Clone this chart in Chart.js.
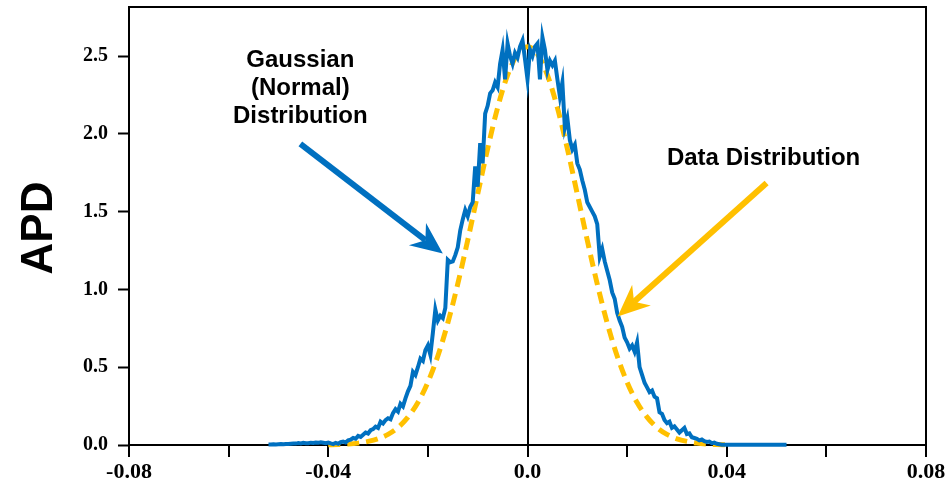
<!DOCTYPE html>
<html>
<head>
<meta charset="utf-8">
<title>APD</title>
<script src="https://cdn.jsdelivr.net/npm/chart.js@4.4.1/dist/chart.umd.min.js"></script>
<style>
    html, body { margin: 0; padding: 0; background: #fff; }
    #wrap { width: 951px; height: 486px; position: relative; }
</style>
</head>
<body>
<div id="wrap"><canvas id="apdChart"></canvas></div>
<script>
(function() {
    'use strict';

    // ===== DATA =====
    // measured distribution, sampled every 0.0005 from -0.052 to 0.052
    const dataStart = -0.052;
    const dataStep = 0.0005;
    const dataValues = [
        // -0.0520 .. -0.0400
        0.004, 0.004, 0.005, 0.004, 0.005, 0.006, 0.005, 0.007, 0.006, 0.008, 0.010, 0.009, 0.012,
        0.010, 0.014, 0.012, 0.011, 0.015, 0.013, 0.016, 0.014, 0.018, 0.015, 0.012, 0.016,
        // -0.0395 .. -0.0300
        0.010, 0.006, 0.014, 0.008, 0.018, 0.022, 0.016, 0.030, 0.034, 0.045,
        0.040, 0.058, 0.052, 0.066, 0.080, 0.074, 0.095, 0.102, 0.118, 0.110,
        // -0.0295 .. -0.0200
        0.150, 0.138, 0.160, 0.172, 0.165, 0.205, 0.230, 0.215, 0.265, 0.248,
        0.300, 0.345, 0.380, 0.470, 0.450, 0.500, 0.555, 0.540, 0.610, 0.640,
        // -0.0195 .. -0.0100
        0.580, 0.720, 0.870, 0.800, 0.830, 0.815, 0.880, 1.190, 1.175, 1.180,
        1.220, 1.270, 1.380, 1.450, 1.510, 1.470, 1.530, 1.560, 1.790, 1.660,
        // -0.0095 .. 0.0000
        1.940, 1.810, 2.130, 2.180, 2.260, 2.280, 2.330, 2.300, 2.450, 2.540,
        2.350, 2.580, 2.500, 2.450, 2.520, 2.490, 2.560, 2.600, 2.480, 2.350,
        // 0.0005 .. 0.0100
        2.540, 2.500, 2.560, 2.580, 2.350, 2.620, 2.540, 2.410, 2.470, 2.440,
        2.470, 2.350, 2.240, 2.330, 2.040, 2.100, 1.960, 1.900, 1.930, 1.810,
        // 0.0105 .. 0.0200
        1.770, 1.700, 1.640, 1.560, 1.530, 1.500, 1.470, 1.420, 1.210, 1.260,
        1.180, 1.120, 1.060, 0.980, 0.940, 0.850, 0.800, 0.760, 0.690, 0.660,
        // 0.0205 .. 0.0300
        0.620, 0.640, 0.600, 0.660, 0.500, 0.450, 0.400, 0.370, 0.340, 0.350,
        0.310, 0.300, 0.210, 0.200, 0.160, 0.140, 0.150, 0.110, 0.120, 0.100,
        // 0.0305 .. 0.0400
        0.080, 0.095, 0.110, 0.070, 0.075, 0.050, 0.045, 0.040, 0.030, 0.035,
        0.025, 0.020, 0.022, 0.012, 0.015, 0.008, 0.005, 0.002, 0.002, 0.001,
        // 0.0405 .. 0.0520
        0.001, 0.001, 0.001, 0.001, 0.001, 0.001, 0.001, 0.001, 0.001, 0.001, 0.001, 0.001,
        0.001, 0.001, 0.001, 0.001, 0.001, 0.001, 0.001, 0.001, 0.001, 0.001, 0.001, 0.001
    ];

    // gaussian fit, sampled every 0.002 from -0.040 to 0.040
    const gaussStart = -0.040;
    const gaussStep = 0.002;
    const gaussValues = [
        0.001, 0.003, 0.006, 0.012, 0.023, 0.040, 0.068, 0.112, 0.179, 0.273,
        0.403, 0.572, 0.784, 1.035, 1.316, 1.612, 1.904, 2.168, 2.377, 2.513,
        2.560,
        2.513, 2.377, 2.168, 1.904, 1.612, 1.316, 1.035, 0.784, 0.572, 0.403,
        0.273, 0.179, 0.112, 0.068, 0.040, 0.023, 0.012, 0.006, 0.003, 0.001
    ];

    const xTickValues = [-0.08, -0.04, 0, 0.04, 0.08];
    const xTickLabels = ['-0.08', '-0.04', '0.0', '0.04', '0.08'];
    const yTickValues = [0, 0.5, 1.0, 1.5, 2.0, 2.5];
    const yTickLabels = ['0.0', '0.5', '1.0', '1.5', '2.0', '2.5'];

    const BLUE = '#0070C0';
    const GOLD = '#FFC000';

    function toPoints(start, step, values) {
        return values.map((v, i) => ({ x: +(start + i * step).toFixed(5), y: v }));
    }

    // ===== ANNOTATIONS (in data units) =====
    const notes = [
        { lines: ['Gaussian', '(Normal)', 'Distribution'], x: -0.0456, y: 2.474, lineGap: 0.18 },
        { lines: ['Data Distribution'], x: 0.0474, y: 1.845, lineGap: 0 }
    ];
    const arrows = [
        { color: BLUE, from: [-0.0456, 1.935], to: [-0.0170, 1.230] },
        { color: GOLD, from: [0.0480, 1.684], to: [0.0181, 0.826] }
    ];

    function drawArrow(ctx, x1, y1, x2, y2, color) {
        const ang = Math.atan2(y2 - y1, x2 - x1);
        const headLen = 32;
        const notch = 22;
        const half = 14;
        const bx = x2 - Math.cos(ang) * notch;
        const by = y2 - Math.sin(ang) * notch;
        ctx.save();
        ctx.strokeStyle = color;
        ctx.fillStyle = color;
        ctx.lineWidth = 6;
        ctx.beginPath();
        ctx.moveTo(x1, y1);
        ctx.lineTo(bx, by);
        ctx.stroke();
        const hx = x2 - Math.cos(ang) * headLen;
        const hy = y2 - Math.sin(ang) * headLen;
        ctx.beginPath();
        ctx.moveTo(x2, y2);
        ctx.lineTo(hx + Math.sin(ang) * half, hy - Math.cos(ang) * half);
        ctx.lineTo(bx, by);
        ctx.lineTo(hx - Math.sin(ang) * half, hy + Math.cos(ang) * half);
        ctx.closePath();
        ctx.fill();
        ctx.restore();
    }

    const decorPlugin = {
        id: 'decor',
        afterDraw(chart) {
            const ctx = chart.ctx;
            const area = chart.chartArea;
            const xs = chart.scales.x;
            const ys = chart.scales.y;

            // frame: top and right edges
            ctx.save();
            ctx.strokeStyle = '#000';
            ctx.lineWidth = 2;
            ctx.beginPath();
            ctx.moveTo(area.left, area.top);
            ctx.lineTo(area.right, area.top);
            ctx.lineTo(area.right, area.bottom);
            ctx.stroke();
            ctx.restore();

            // axis title
            ctx.save();
            ctx.translate(40, 228);
            ctx.rotate(-Math.PI / 2);
            ctx.font = 'bold 44px "Liberation Sans", Arial, sans-serif';
            ctx.fillStyle = '#000';
            ctx.textAlign = 'center';
            ctx.textBaseline = 'middle';
            ctx.fillText('APD', 0, 0);
            ctx.restore();

            // arrows
            arrows.forEach(a => {
                drawArrow(ctx,
                    xs.getPixelForValue(a.from[0]), ys.getPixelForValue(a.from[1]),
                    xs.getPixelForValue(a.to[0]), ys.getPixelForValue(a.to[1]),
                    a.color);
            });

            // labels
            ctx.save();
            ctx.font = 'bold 24px "Liberation Sans", Arial, sans-serif';
            ctx.fillStyle = '#000';
            ctx.textAlign = 'center';
            ctx.textBaseline = 'middle';
            notes.forEach(n => {
                n.lines.forEach((line, i) => {
                    ctx.fillText(line, xs.getPixelForValue(n.x), ys.getPixelForValue(n.y - i * n.lineGap));
                });
            });
            ctx.restore();
        }
    };

    const serif = '"Liberation Serif", "Times New Roman", serif';

    new Chart(document.getElementById('apdChart'), {
        type: 'line',
        data: {
            datasets: [
                {
                    label: 'Data Distribution',
                    data: toPoints(dataStart, dataStep, dataValues),
                    borderColor: BLUE,
                    borderWidth: 4,
                    pointRadius: 0,
                    tension: 0,
                    clip: 6
                },
                {
                    label: 'Gaussian (Normal) Distribution',
                    data: toPoints(gaussStart, gaussStep, gaussValues),
                    borderColor: GOLD,
                    borderWidth: 5,
                    borderDash: [12, 7],
                    pointRadius: 0,
                    cubicInterpolationMode: 'monotone',
                    clip: 6
                }
            ]
        },
        options: {
            responsive: true,
            maintainAspectRatio: false,
            animation: false,
            layout: { padding: { top: 7, right: 25, left: 0, bottom: 0 } },
            plugins: {
                legend: { display: false },
                tooltip: { enabled: false }
            },
            scales: {
                x: {
                    type: 'linear',
                    min: -0.08,
                    max: 0.08,
                    afterFit: s => {
                        s.height = 41;
                        s.paddingLeft = 0;
                        s.paddingRight = 0;
                    },
                    afterBuildTicks: s => {
                        const t = [];
                        for (let i = 0; i <= 8; i++) t.push({ value: +(-0.08 + i * 0.02).toFixed(2) });
                        s.ticks = t;
                    },
                    border: { display: true, color: '#000', width: 2 },
                    grid: {
                        drawOnChartArea: true,
                        color: c => (c.tick && Math.abs(c.tick.value) < 1e-9) ? '#000' : 'rgba(0,0,0,0)',
                        lineWidth: 2,
                        tickColor: '#000',
                        tickLength: 12,
                        tickWidth: 2
                    },
                    ticks: {
                        autoSkip: false,
                        maxRotation: 0,
                        padding: 2,
                        color: '#000',
                        font: { family: serif, size: 22, weight: 'bold' },
                        callback: value => {
                            const i = xTickValues.findIndex(v => Math.abs(v - value) < 1e-9);
                            return i >= 0 ? xTickLabels[i] : '';
                        }
                    }
                },
                y: {
                    type: 'linear',
                    min: 0,
                    max: 2.815,
                    afterFit: s => {
                        s.width = 129;
                        s.paddingTop = 0;
                        s.paddingBottom = 0;
                    },
                    afterBuildTicks: s => {
                        s.ticks = yTickValues.map(v => ({ value: v }));
                    },
                    border: { display: true, color: '#000', width: 2 },
                    grid: {
                        drawOnChartArea: false,
                        color: '#000',
                        tickColor: '#000',
                        tickLength: 11,
                        tickWidth: 2
                    },
                    ticks: {
                        autoSkip: false,
                        padding: 10,
                        color: '#000',
                        font: { family: serif, size: 20, weight: 'bold' },
                        callback: value => {
                            const i = yTickValues.findIndex(v => Math.abs(v - value) < 1e-9);
                            return i >= 0 ? yTickLabels[i] : '';
                        }
                    }
                }
            }
        },
        plugins: [decorPlugin]
    });

})();
</script>
</body>
</html>
